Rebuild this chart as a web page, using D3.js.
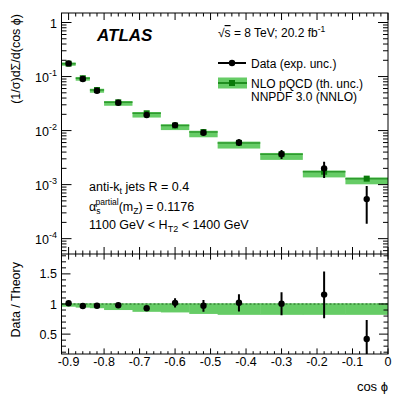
<!DOCTYPE html>
<html>
<head>
<meta charset="utf-8">
<script src="https://cdn.jsdelivr.net/npm/d3@7"></script>
<style>
body { margin: 0; background: #fff; }
svg { display: block; }
text { font-family: "Liberation Sans", Arial, sans-serif; fill: #000; }
</style>
</head>
<body>
<svg id="chart" width="409" height="398"></svg>
<script>
// bins in cos(phi)
var binEdges = [-0.92, -0.88, -0.84, -0.80, -0.72, -0.64, -0.56, -0.48, -0.36, -0.24, -0.12, 0];
// measured (1/sigma) dSigma/d(cos phi)
var dataVal = [0.175, 0.090, 0.0546, 0.0327, 0.0194, 0.01264, 0.00912, 0.00604, 0.00367, 0.0020, 0.00054];
var dataErrUp = [0.02, 0.021, 0.021, 0.026, 0.032, 0.074, 0.10, 0.14, 0.19, 0.33, 0.75];
var dataErrDown = [0.02, 0.021, 0.021, 0.026, 0.032, 0.074, 0.10, 0.14, 0.19, 0.34, 0.65];
// NLO prediction and its relative uncertainty
var theoryVal = [0.173, 0.093, 0.0563, 0.0334, 0.0209, 0.0124, 0.0094, 0.00592, 0.00365, 0.00173, 0.00129];
var theoryUp = [0.012, 0.012, 0.012, 0.012, 0.012, 0.012, 0.012, 0.012, 0.012, 0.012, 0.012];
var theoryDown = [0.045, 0.06, 0.07, 0.10, 0.13, 0.14, 0.165, 0.18, 0.18, 0.18, 0.18];

var xTicksMajor = [-0.9, -0.8, -0.7, -0.6, -0.5, -0.4, -0.3, -0.2, -0.1, 0];
var xTickLabels = ["-0.9", "-0.8", "-0.7", "-0.6", "-0.5", "-0.4", "-0.3", "-0.2", "-0.1", "0"];
var yDecades = [1, 1e-1, 1e-2, 1e-3, 1e-4];
var yDecadeExp = ["", "-1", "-2", "-3", "-4"];
var ratioTicks = [0.5, 1, 1.5];
var ratioLabels = ["0.5", "1", "1.5"];

var L = 61.5, R = 388, T = 13, B1 = 254, B2 = 354;
var bandCol = "#66cc66", darkGreen = "#0a7a0a";

var svg = d3.select("#chart");

var x = d3.scaleLinear().domain([-0.92, 0]).range([L, R]);
var y = d3.scaleLog().domain([5.2e-5, 1.5]).range([B1, T]);
var yr = d3.scaleLinear().domain([0.17, 1.83]).range([B2, B1]);

var bins = dataVal.map(function(d, i) {
	return {
		lo: binEdges[i], hi: binEdges[i + 1], c: (binEdges[i] + binEdges[i + 1]) / 2,
		d: d, dUp: dataErrUp[i], dDn: dataErrDown[i],
		t: theoryVal[i], tUp: theoryUp[i], tDn: theoryDown[i]
	};
});

svg.append("clipPath").attr("id", "clipTop")
	.append("rect").attr("x", L).attr("y", T).attr("width", R - L).attr("height", B1 - T);
svg.append("clipPath").attr("id", "clipBot")
	.append("rect").attr("x", L).attr("y", B1).attr("width", R - L).attr("height", B2 - B1);

// ---------- upper panel ----------
var upper = svg.append("g").attr("clip-path", "url(#clipTop)");

upper.selectAll("rect.band").data(bins).enter().append("rect")
	.attr("x", function(d) { return x(d.lo); })
	.attr("width", function(d) { return x(d.hi) - x(d.lo); })
	.attr("y", function(d) { return y(d.t * (1 + d.tUp)) - 1; })
	.attr("height", function(d) { return y(d.t * (1 - d.tDn)) - y(d.t * (1 + d.tUp)) + 2; })
	.attr("fill", bandCol);

upper.selectAll("line.tline").data(bins).enter().append("line")
	.attr("x1", function(d) { return x(d.lo); })
	.attr("x2", function(d) { return x(d.hi); })
	.attr("y1", function(d) { return y(d.t); })
	.attr("y2", function(d) { return y(d.t); })
	.attr("stroke", "#2f9a2f").attr("stroke-width", 1.5);

upper.selectAll("rect.tmark").data(bins).enter().append("rect")
	.attr("x", function(d) { return x(d.c) - 3; })
	.attr("y", function(d) { return y(d.t) - 3; })
	.attr("width", 6).attr("height", 6)
	.attr("fill", darkGreen);

upper.selectAll("line.err").data(bins).enter().append("line")
	.attr("x1", function(d) { return x(d.c); })
	.attr("x2", function(d) { return x(d.c); })
	.attr("y1", function(d) { return y(d.d * (1 + d.dUp)); })
	.attr("y2", function(d) { return y(d.d * (1 - d.dDn)); })
	.attr("stroke", "#000").attr("stroke-width", 2);

upper.selectAll("circle.pt").data(bins).enter().append("circle")
	.attr("cx", function(d) { return x(d.c); })
	.attr("cy", function(d) { return y(d.d); })
	.attr("r", 3.2).attr("fill", "#000");

// ---------- lower panel ----------
var lower = svg.append("g").attr("clip-path", "url(#clipBot)");

lower.selectAll("rect.rband").data(bins).enter().append("rect")
	.attr("x", function(d) { return x(d.lo); })
	.attr("width", function(d) { return x(d.hi) - x(d.lo) + 0.5; })
	.attr("y", function(d) { return yr(1 + d.tUp); })
	.attr("height", function(d) { return yr(1 - d.tDn) - yr(1 + d.tUp); })
	.attr("fill", bandCol);

lower.append("line")
	.attr("x1", L).attr("x2", R).attr("y1", yr(1)).attr("y2", yr(1))
	.attr("stroke", "#1d5e1d").attr("stroke-width", 1).attr("stroke-dasharray", "2,2");

lower.selectAll("line.rerr").data(bins).enter().append("line")
	.attr("x1", function(d) { return x(d.c); })
	.attr("x2", function(d) { return x(d.c); })
	.attr("y1", function(d) { return yr(d.d / d.t * (1 + d.dUp)); })
	.attr("y2", function(d) { return yr(d.d / d.t * (1 - d.dDn)); })
	.attr("stroke", "#000").attr("stroke-width", 2);

lower.selectAll("circle.rpt").data(bins).enter().append("circle")
	.attr("cx", function(d) { return x(d.c); })
	.attr("cy", function(d) { return yr(d.d / d.t); })
	.attr("r", 3.2).attr("fill", "#000");

// ---------- frames and ticks ----------
svg.append("rect").attr("x", L).attr("y", T).attr("width", R - L).attr("height", B2 - T)
	.attr("fill", "none").attr("stroke", "#000").attr("stroke-width", 1);
svg.append("line").attr("x1", L).attr("x2", R).attr("y1", B1).attr("y2", B1)
	.attr("stroke", "#000").attr("stroke-width", 1);

var ticks = svg.append("g").attr("stroke", "#000").attr("stroke-width", 1);
function tick(x1, y1, x2, y2) {
	ticks.append("line").attr("x1", x1).attr("y1", y1).attr("x2", x2).attr("y2", y2);
}

// x ticks, every 0.02
d3.range(-46, 1).forEach(function(i) {
	var xv = x(i * 0.02), len = (i % 5 === 0) ? 7 : 3.5;
	tick(xv, T, xv, T + len);
	tick(xv, B1, xv, B1 - len);
	tick(xv, B1, xv, B1 + len * 0.8);
	tick(xv, B2, xv, B2 - len * 0.8);
});

// log y ticks
yDecades.forEach(function(v) {
	tick(L, y(v), L + 10, y(v));
	tick(R, y(v), R - 10, y(v));
});
[-5, -4, -3, -2, -1, 0].forEach(function(n) {
	d3.range(2, 10).forEach(function(k) {
		var v = k * Math.pow(10, n);
		if (v > y.domain()[0] && v < y.domain()[1]) {
			tick(L, y(v), L + 5, y(v));
			tick(R, y(v), R - 5, y(v));
		}
	});
});

// ratio y ticks, every 0.1
d3.range(2, 19).forEach(function(i) {
	var v = i / 10, len = (i % 5 === 0) ? 9 : 4.5;
	tick(L, yr(v), L + len, yr(v));
	tick(R, yr(v), R - len, yr(v));
});

// ---------- labels ----------
var lab = svg.append("g").attr("font-size", "12.5px");

xTicksMajor.forEach(function(v, i) {
	lab.append("text").attr("x", x(v)).attr("y", 366)
		.attr("text-anchor", "middle").text(xTickLabels[i]);
});

yDecades.forEach(function(v, i) {
	var t = lab.append("text").attr("x", 57).attr("y", y(v) + 5).attr("text-anchor", "end");
	if (yDecadeExp[i] === "") {
		t.text("1");
	} else {
		t.append("tspan").text("10");
		t.append("tspan").attr("dy", -6).attr("font-size", "9px").text(yDecadeExp[i]);
	}
});

ratioTicks.forEach(function(v, i) {
	lab.append("text").attr("x", 57).attr("y", yr(v) + 4.5)
		.attr("text-anchor", "end").text(ratioLabels[i]);
});

// axis titles
svg.append("text").attr("transform", "translate(20," + (T + 1) + ") rotate(-90)")
	.attr("text-anchor", "end").attr("font-size", "12.5px")
	.text("(1/\u03c3)d\u03a3/d(cos \u03d5)");
svg.append("text").attr("transform", "translate(20,262) rotate(-90)")
	.attr("text-anchor", "end").attr("font-size", "12.5px")
	.text("Data / Theory");
svg.append("text").attr("x", R).attr("y", 391).attr("text-anchor", "end")
	.attr("font-size", "13px").text("cos \u03d5");

// ATLAS label
svg.append("text").attr("x", 97).attr("y", 41)
	.attr("font-size", "17px").attr("font-weight", "bold").attr("font-style", "italic")
	.text("ATLAS");

// energy / lumi
var en = svg.append("text").attr("x", 218).attr("y", 37).attr("font-size", "12px");
en.append("tspan").text("\u221a");
en.append("tspan").attr("text-decoration", "overline").text("s");
en.append("tspan").text(" = 8 TeV; 20.2 fb");
en.append("tspan").attr("dy", -5).attr("font-size", "8.5px").text("-1");

// legend
var lg = svg.append("g");
lg.append("line").attr("x1", 218).attr("x2", 246).attr("y1", 63).attr("y2", 63)
	.attr("stroke", "#000").attr("stroke-width", 2);
lg.append("circle").attr("cx", 232).attr("cy", 63).attr("r", 3.2).attr("fill", "#000");
lg.append("text").attr("x", 251).attr("y", 67.5).attr("font-size", "12px").text("Data (exp. unc.)");

lg.append("rect").attr("x", 218).attr("y", 77.5).attr("width", 29).attr("height", 11).attr("fill", bandCol);
lg.append("line").attr("x1", 218).attr("x2", 247).attr("y1", 83).attr("y2", 83)
	.attr("stroke", darkGreen).attr("stroke-width", 1.5);
lg.append("rect").attr("x", 229).attr("y", 80).attr("width", 6).attr("height", 6).attr("fill", darkGreen);
lg.append("text").attr("x", 251).attr("y", 87.5).attr("font-size", "12px").text("NLO pQCD (th. unc.)");
lg.append("text").attr("x", 251).attr("y", 101).attr("font-size", "12px").text("NNPDF 3.0 (NNLO)");

// selection text
var sel = svg.append("g").attr("font-size", "12.5px");
var t1 = sel.append("text").attr("x", 89).attr("y", 191);
t1.append("tspan").text("anti-k");
t1.append("tspan").attr("dy", 3).attr("font-size", "9px").text("t");
t1.append("tspan").attr("dy", -3).text(" jets R = 0.4");

var t2 = sel.append("text").attr("x", 89).attr("y", 211);
t2.append("tspan").text("\u03b1");
t2.append("tspan").attr("dy", 3).attr("font-size", "8.5px").text("s");
t2.append("tspan").attr("dx", -5).attr("dy", -9).attr("font-size", "8.5px").text("partial");
t2.append("tspan").attr("dy", 6).text("(m");
t2.append("tspan").attr("dy", 3).attr("font-size", "8.5px").text("Z");
t2.append("tspan").attr("dy", -3).text(") = 0.1176");

var t3 = sel.append("text").attr("x", 89).attr("y", 229);
t3.append("tspan").text("1100 GeV < H");
t3.append("tspan").attr("dy", 3).attr("font-size", "9px").text("T2");
t3.append("tspan").attr("dy", -3).text(" < 1400 GeV");
</script>
</body>
</html>
